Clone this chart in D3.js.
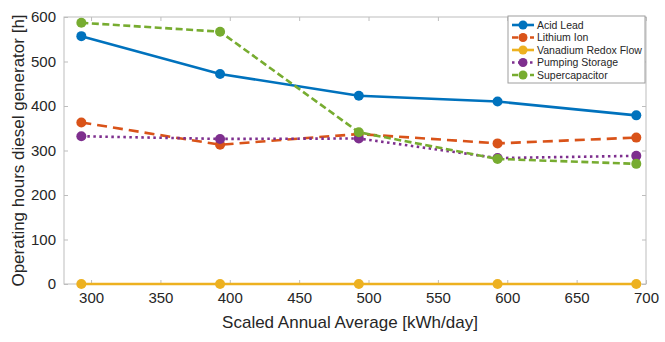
<!DOCTYPE html>
<html>
<head>
<meta charset="utf-8">
<script src="https://cdn.jsdelivr.net/npm/d3@7"></script>
<style>
  body { margin: 0; background: #fff; }
  text { font-family: "Liberation Sans", Arial, sans-serif; fill: #262626; }
</style>
</head>
<body>
<svg id="chart" width="665" height="342"></svg>
<script>
// データ
const xValues = [293, 393, 493, 593, 693];
const seriesNames = ["Acid Lead", "Lithium Ion", "Vanadium Redox Flow", "Pumping Storage", "Supercapacitor"];
const acidLead = [557, 472, 423, 410, 379];
const lithiumIon = [363, 313, 337, 316, 329];
const vanadiumRedoxFlow = [0, 0, 0, 0, 0];
const pumpingStorage = [332, 326, 327, 283, 288];
const supercapacitor = [587, 567, 341, 281, 270];
const xTicks = [300, 350, 400, 450, 500, 550, 600, 650, 700];
const yTicks = [0, 100, 200, 300, 400, 500, 600];

const colors = ["#0072BD", "#D95319", "#EDB120", "#7E2F8E", "#77AC30"];
const dashes = [null, "10,6", null, "2.5,3.5", "7,3.5"];
const allSeries = [acidLead, lithiumIon, vanadiumRedoxFlow, pumpingStorage, supercapacitor];

const svg = d3.select("#chart");
const plotLeft = 64, plotRight = 646, plotTop = 17, plotBottom = 284;

// スケール
const x = d3.scaleLinear().domain([280.5, 700]).range([plotLeft, plotRight]);
const y = d3.scaleLinear().domain([0, 600]).range([plotBottom, plotTop]);

// 枠
svg.append("rect")
    .attr("x", plotLeft).attr("y", plotTop)
    .attr("width", plotRight - plotLeft).attr("height", plotBottom - plotTop)
    .attr("fill", "none").attr("stroke", "#bdbdbd").attr("stroke-width", 1);

// 軸（内向きの目盛り）
const xAxis = svg.append("g")
    .attr("transform", `translate(0, ${plotBottom})`)
    .call(d3.axisBottom(x).tickValues(xTicks).tickSizeInner(-4).tickSizeOuter(0).tickPadding(8));
const xAxisTop = svg.append("g")
    .attr("transform", `translate(0, ${plotTop})`)
    .call(d3.axisTop(x).tickValues(xTicks).tickSizeInner(-4).tickSizeOuter(0).tickFormat(""));
const yAxis = svg.append("g")
    .attr("transform", `translate(${plotLeft}, 0)`)
    .call(d3.axisLeft(y).tickValues(yTicks).tickSizeInner(-4).tickSizeOuter(0).tickPadding(8));
const yAxisRight = svg.append("g")
    .attr("transform", `translate(${plotRight}, 0)`)
    .call(d3.axisRight(y).tickValues(yTicks).tickSizeInner(-4).tickSizeOuter(0).tickFormat(""));

[xAxis, xAxisTop, yAxis, yAxisRight].forEach(g => {
    g.select(".domain").remove();
    g.selectAll("line").attr("stroke", "#bdbdbd");
    g.selectAll("text").attr("font-size", 15).attr("fill", "#262626")
        .style("font-family", "'Liberation Sans', Arial, sans-serif");
});

// 軸ラベル
svg.append("text")
    .attr("x", (plotLeft + plotRight) / 2 - 5).attr("y", 328)
    .attr("text-anchor", "middle").attr("font-size", 17)
    .text("Scaled Annual Average [kWh/day]");
svg.append("text")
    .attr("transform", `translate(24, ${(plotTop + plotBottom) / 2}) rotate(-90)`)
    .attr("text-anchor", "middle").attr("font-size", 17)
    .text("Operating hours diesel generator [h]");

// 線とマーカー
const line = d3.line().x((d, i) => x(xValues[i])).y(d => y(d));
allSeries.forEach((vals, s) => {
    const g = svg.append("g");
    g.append("path")
        .datum(vals)
        .attr("d", line)
        .attr("fill", "none")
        .attr("stroke", colors[s])
        .attr("stroke-width", 2.6)
        .attr("stroke-dasharray", dashes[s]);
    g.selectAll("circle")
        .data(vals)
        .enter()
        .append("circle")
        .attr("cx", (d, i) => x(xValues[i]))
        .attr("cy", d => y(d))
        .attr("r", 5)
        .attr("fill", colors[s]);
});

// 凡例
const lg = svg.append("g").attr("transform", "translate(508, 16)");
lg.append("rect")
    .attr("width", 137).attr("height", 67)
    .attr("fill", "#fff").attr("stroke", "#9e9e9e").attr("stroke-width", 1);
seriesNames.forEach((name, s) => {
    const yy = 9 + s * 12.5;
    lg.append("line")
        .attr("x1", 4).attr("x2", 26).attr("y1", yy).attr("y2", yy)
        .attr("stroke", colors[s]).attr("stroke-width", 2.6)
        .attr("stroke-dasharray", dashes[s] ? (s === 3 ? "2.5,3.5" : "6,3") : null);
    lg.append("circle")
        .attr("cx", 15).attr("cy", yy).attr("r", 4.5).attr("fill", colors[s]);
    lg.append("text")
        .attr("x", 29).attr("y", yy + 3.5)
        .attr("font-size", 10.5)
        .text(name);
});
</script>
</body>
</html>
